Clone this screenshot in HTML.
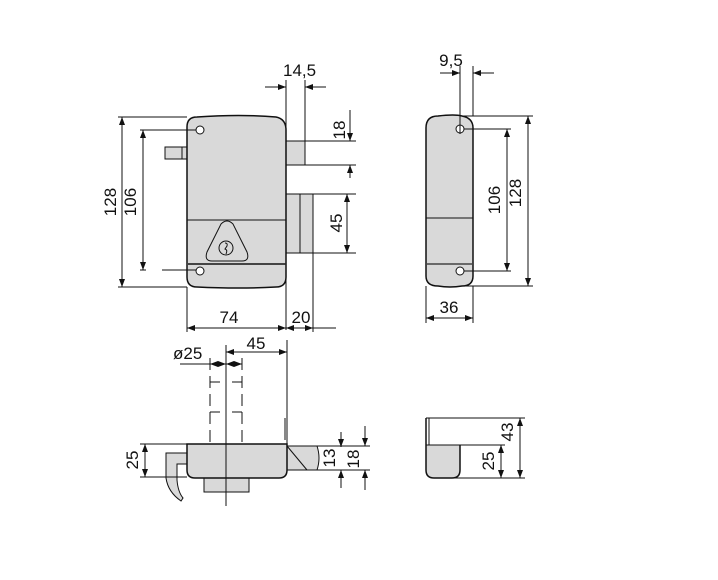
<!DOCTYPE html>
<html><head><meta charset="utf-8"><style>
html,body{margin:0;padding:0;background:#fff}
svg{display:block}
text{font-family:"Liberation Sans",sans-serif;font-size:17px;fill:#111}
</style></head><body>
<svg width="718" height="580" viewBox="0 0 718 580" xmlns="http://www.w3.org/2000/svg">
<defs>
<marker id="a" markerWidth="8" markerHeight="6" refX="8" refY="3" orient="auto-start-reverse" markerUnits="userSpaceOnUse"><path d="M0,0 L8,3 L0,6 z" fill="#111"/></marker>
</defs>
<g stroke="#111" stroke-width="1" fill="none">
<!-- FRONT VIEW -->
<rect x="165" y="147" width="22" height="12" fill="#d9d9d9"/>
<line x1="182" y1="147" x2="182" y2="159"/>
<rect x="286" y="141" width="19" height="24" fill="#d9d9d9"/>
<rect x="286" y="194" width="27" height="59" fill="#d9d9d9"/>
<line x1="300" y1="194" x2="300" y2="253"/>
<path d="M197,117 Q240,114 276,117 Q286,119 286,130 L286,277 Q286,287 276,287 Q240,289 197,287 Q187,287 187,277 L187,127 Q187,117 197,117 Z" fill="#d9d9d9" stroke-width="1.5"/>
<line x1="187" y1="220" x2="286" y2="220"/>
<line x1="187" y1="264" x2="286" y2="264" stroke-width="2" stroke="#444"/>
<path d="M221,224 Q227,218 233,224 L247,252 Q250,261 242,261 L212,261 Q204,261 207,252 Z"/>
<circle cx="226" cy="248" r="7"/>
<path d="M225,243 q3,0 2,3 l-2,3 q3,1 1,5" />
<circle cx="200" cy="130" r="4" fill="#fff"/>
<circle cx="200" cy="271" r="4" fill="#fff"/>
<!-- front dims -->
<line x1="118" y1="117" x2="187" y2="117"/>
<line x1="118" y1="287" x2="187" y2="287"/>
<line x1="122" y1="117" x2="122" y2="287" marker-start="url(#a)" marker-end="url(#a)"/>
<line x1="140" y1="130" x2="196" y2="130"/>
<line x1="140" y1="270" x2="146" y2="270"/>
<line x1="162" y1="270" x2="196" y2="270"/>
<line x1="143" y1="130" x2="143" y2="270" marker-start="url(#a)" marker-end="url(#a)"/>
<line x1="286" y1="80" x2="286" y2="330"/>
<line x1="305" y1="80" x2="305" y2="141"/>
<line x1="265" y1="87" x2="286" y2="87" marker-end="url(#a)"/>
<line x1="326" y1="87" x2="305" y2="87" marker-end="url(#a)"/>
<line x1="305" y1="141" x2="356" y2="141"/>
<line x1="286" y1="165" x2="356" y2="165"/>
<line x1="350" y1="110" x2="350" y2="141" marker-end="url(#a)"/>
<line x1="350" y1="178" x2="350" y2="165" marker-end="url(#a)"/>
<line x1="313" y1="194" x2="356" y2="194"/>
<line x1="313" y1="253" x2="356" y2="253"/>
<line x1="347" y1="194" x2="347" y2="253" marker-start="url(#a)" marker-end="url(#a)"/>
<line x1="187" y1="287" x2="187" y2="332"/>
<line x1="313" y1="253" x2="313" y2="332"/>
<line x1="187" y1="328" x2="286" y2="328" marker-start="url(#a)" marker-end="url(#a)"/>
<line x1="286" y1="328" x2="313" y2="328" marker-start="url(#a)" marker-end="url(#a)"/>
<line x1="313" y1="328" x2="336" y2="328"/>
<!-- SIDE VIEW -->
<path d="M438,116 Q455,114 462,116 Q473,118 473,128 L473,276 Q473,286 462,286 Q450,288 438,286 Q426,286 426,276 L426,128 Q426,116 438,116 Z" fill="#d9d9d9" stroke-width="1.5"/>
<line x1="426" y1="218" x2="473" y2="218"/>
<line x1="426" y1="264" x2="473" y2="264" stroke="#444" stroke-width="1.5"/>
<circle cx="460" cy="129" r="4" fill="#fff"/>
<circle cx="460" cy="271" r="4" fill="#fff"/>
<line x1="460" y1="66" x2="460" y2="134"/>
<line x1="473" y1="66" x2="473" y2="116"/>
<line x1="440" y1="73" x2="460" y2="73" marker-end="url(#a)"/>
<line x1="494" y1="73" x2="473" y2="73" marker-end="url(#a)"/>
<line x1="464" y1="129" x2="511" y2="129"/>
<line x1="464" y1="271" x2="511" y2="271"/>
<line x1="507" y1="129" x2="507" y2="271" marker-start="url(#a)" marker-end="url(#a)"/>
<line x1="462" y1="116" x2="533" y2="116"/>
<line x1="462" y1="286" x2="533" y2="286"/>
<line x1="528" y1="116" x2="528" y2="286" marker-start="url(#a)" marker-end="url(#a)"/>
<line x1="426" y1="286" x2="426" y2="323"/>
<line x1="473" y1="286" x2="473" y2="323"/>
<line x1="426" y1="318" x2="473" y2="318" marker-start="url(#a)" marker-end="url(#a)"/>
<!-- SIDE BOTTOM -->
<path d="M426,445 L460,445 L460,470 Q460,478 452,478 L434,478 Q426,478 426,470 Z" fill="#d9d9d9" stroke="none"/>
<path d="M426,418 L426,470 Q426,478 434,478 L452,478 Q460,478 460,470 L460,445" stroke-width="1.5"/>
<line x1="429" y1="418" x2="429" y2="445"/>
<line x1="426" y1="418" x2="525" y2="418"/>
<line x1="426" y1="445" x2="505" y2="445"/>
<line x1="452" y1="478" x2="525" y2="478"/>
<line x1="501" y1="445" x2="501" y2="478" marker-start="url(#a)" marker-end="url(#a)"/>
<line x1="520" y1="418" x2="520" y2="478" marker-start="url(#a)" marker-end="url(#a)"/>
<!-- BOTTOM VIEW -->
<path d="M287,446 L317,446 Q321,458 317,470 L287,470 Z" fill="#d9d9d9"/>
<line x1="287" y1="446" x2="307" y2="470"/>
<path d="M166,453 L187,453 L187,464 L177,464 L177,480 Q178,492 183,498 L181,501 Q168,492 166,478 Z" fill="#d9d9d9"/>
<rect x="204" y="478" width="45" height="14" fill="#d9d9d9"/>
<path d="M187,444 L287,444 L287,470 Q287,478 279,478 L195,478 Q187,478 187,470 Z" fill="#d9d9d9" stroke-width="1.5"/>
<line x1="226" y1="345" x2="226" y2="506"/>
<line x1="287" y1="340" x2="287" y2="444"/>
<line x1="285" y1="418" x2="285" y2="440"/>
<line x1="210" y1="358" x2="210" y2="444" stroke-dasharray="12,6"/>
<line x1="242" y1="358" x2="242" y2="444" stroke-dasharray="12,6"/>
<line x1="210" y1="382" x2="220" y2="382"/><line x1="232" y1="382" x2="242" y2="382"/>
<line x1="210" y1="412" x2="220" y2="412"/><line x1="232" y1="412" x2="242" y2="412"/>
<line x1="226" y1="352" x2="287" y2="352" marker-start="url(#a)" marker-end="url(#a)"/>
<line x1="180" y1="364" x2="210" y2="364"/>
<line x1="210" y1="364" x2="226" y2="364" marker-start="url(#a)" marker-end="url(#a)"/>
<line x1="226" y1="364" x2="242" y2="364" marker-start="url(#a)" marker-end="url(#a)"/>
<line x1="140" y1="444" x2="187" y2="444"/>
<line x1="140" y1="477" x2="187" y2="477"/>
<line x1="287" y1="446" x2="370" y2="446"/>
<line x1="317" y1="470" x2="370" y2="470"/>
<line x1="145" y1="444" x2="145" y2="477" marker-start="url(#a)" marker-end="url(#a)"/>
<line x1="341" y1="432" x2="341" y2="447" marker-end="url(#a)"/>
<line x1="341" y1="488" x2="341" y2="470" marker-end="url(#a)"/>
<line x1="365" y1="426" x2="365" y2="446" marker-end="url(#a)"/>
<line x1="365" y1="490" x2="365" y2="470" marker-end="url(#a)"/>
</g>
<text x="283" y="76">14,5</text>
<text transform="translate(345,130) rotate(-90)" text-anchor="middle">18</text>
<text transform="translate(342,223) rotate(-90)" text-anchor="middle">45</text>
<text transform="translate(116,202) rotate(-90)" text-anchor="middle">128</text>
<text transform="translate(136,202) rotate(-90)" text-anchor="middle">106</text>
<text x="229" y="323" text-anchor="middle">74</text>
<text x="301" y="323" text-anchor="middle">20</text>
<text x="451" y="66" text-anchor="middle">9,5</text>
<text transform="translate(500,200) rotate(-90)" text-anchor="middle">106</text>
<text transform="translate(521,193) rotate(-90)" text-anchor="middle">128</text>
<text x="449" y="313" text-anchor="middle">36</text>
<text transform="translate(513,432) rotate(-90)" text-anchor="middle">43</text>
<text transform="translate(494,461) rotate(-90)" text-anchor="middle">25</text>
<text x="256" y="349" text-anchor="middle">45</text>
<text x="173" y="359">ø25</text>
<text transform="translate(138,460) rotate(-90)" text-anchor="middle">25</text>
<text transform="translate(335,458) rotate(-90)" text-anchor="middle">13</text>
<text transform="translate(359,459) rotate(-90)" text-anchor="middle">18</text>
</svg>
</body></html>
